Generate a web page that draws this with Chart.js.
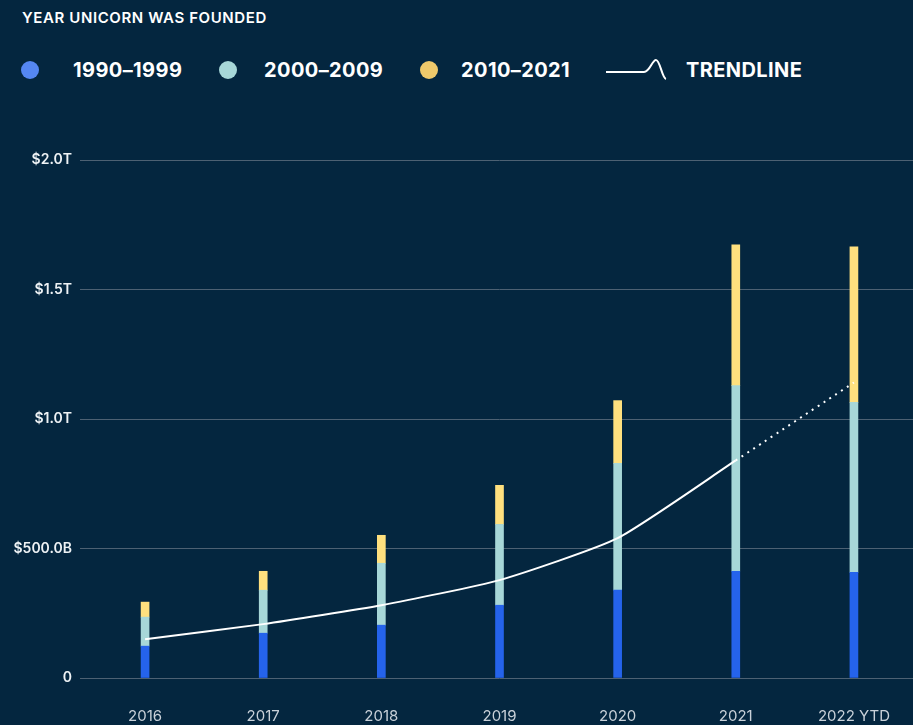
<!DOCTYPE html>
<html>
<head>
<meta charset="utf-8">
<script src="https://cdn.jsdelivr.net/npm/chart.js@4"></script>
<style>
  html, body { margin: 0; padding: 0; background: #04263f; width: 913px; height: 725px; overflow: hidden; font-family: Inter, "Noto Sans", sans-serif; color: #fff; }
  .title { position: absolute; left: 22px; top: 8px; font-size: 15px; font-weight: 600; letter-spacing: 0.6px; }
  .legend { position: absolute; top: 58px; left: 0; height: 24px; width: 913px; }
  .dot { width: 18px; height: 18px; border-radius: 50%; position: absolute; top: 3px; }
  .lab { position: absolute; top: 0; font-size: 20px; font-weight: 700; line-height: 24px; letter-spacing: 0.4px; white-space: nowrap; }
  #wrap { position: absolute; left: 0; top: 140px; width: 913px; height: 585px; }
</style>
</head>
<body>
<div class="title">YEAR UNICORN WAS FOUNDED</div>
<div class="legend">
  <div class="dot" style="left:21px;background:#5587f2"></div>
  <div class="lab" style="left:73px">1990–1999</div>
  <div class="dot" style="left:219px;background:#a7d7d8"></div>
  <div class="lab" style="left:264px">2000–2009</div>
  <div class="dot" style="left:420px;background:#efc96b"></div>
  <div class="lab" style="left:461px">2010–2021</div>
  <svg style="position:absolute;left:604px;top:0" width="64" height="26">
    <path d="M2 14 L40 14 C46 14 48 2 52 2 C56 2 58 20 62 21" stroke="#fff" stroke-width="2" fill="none"/>
  </svg>
  <div class="lab" style="left:686px">TRENDLINE</div>
</div>
<div id="wrap"><canvas id="grafico"></canvas></div>
<script>
// values in billions of dollars
const years = ['2016', '2017', '2018', '2019', '2020', '2021', '2022 YTD'];
const founded1990s = [123, 173, 204, 281, 339, 412, 408];
const founded2000s = [112, 166, 239, 312, 490, 717, 656];
const founded2010s = [58, 73, 108, 151, 242, 543, 601];
const trendline = [150, 208, 281, 378, 540, 840, 1141];
const yTicks = [0, 500, 1000, 1500, 2000];

function formatValue(v) {
    if (v === 0) return '0';
    if (v >= 1000) return '$' + (v / 1000).toFixed(1) + 'T';
    return '$' + v.toFixed(1) + 'B';
}

const ctx = document.getElementById('grafico').getContext('2d');
new Chart(ctx, {
    data: {
        labels: years,
        datasets: [
            {
                type: 'line',
                label: 'Trendline',
                data: trendline,
                stack: 'trend',
                borderColor: '#ffffff',
                borderWidth: 2,
                pointRadius: 0,
                tension: 0.18,
                segment: {
                    borderDash: c => c.p0DataIndex === 5 ? [2, 5] : undefined
                }
            },
            { type: 'bar', label: '1990–1999', data: founded1990s, backgroundColor: '#2563eb', stack: 'a', barThickness: 8 },
            { type: 'bar', label: '2000–2009', data: founded2000s, backgroundColor: '#a7d7d8', stack: 'a', barThickness: 8 },
            { type: 'bar', label: '2010–2021', data: founded2010s, backgroundColor: '#ffe07e', stack: 'a', barThickness: 8 }
        ]
    },
    options: {
        responsive: true,
        maintainAspectRatio: false,
        animation: false,
        layout: { padding: { top: 20, right: 0, bottom: 2, left: 0 } },
        plugins: { legend: { display: false }, tooltip: { enabled: false } },
        scales: {
            x: {
                stacked: true,
                afterFit: s => { s.height = 45; },
                grid: { display: false },
                border: { display: false },
                ticks: { color: '#c9d1d9', font: { family: 'Inter', size: 15 }, padding: 21 }
            },
            y: {
                stacked: true,
                min: 0,
                max: 2000,
                afterBuildTicks: s => { s.ticks = yTicks.map(v => ({ value: v })); },
                afterFit: s => { s.width = 86; },
                grid: { color: '#4d6173', lineWidth: 1, drawTicks: true, tickLength: 6 },
                border: { display: false },
                ticks: {
                    color: '#eef2f5',
                    font: { family: 'Inter', size: 14, weight: '600' },
                    padding: 8,
                    callback: v => formatValue(v)
                }
            }
        }
    }
});
</script>
</body>
</html>
